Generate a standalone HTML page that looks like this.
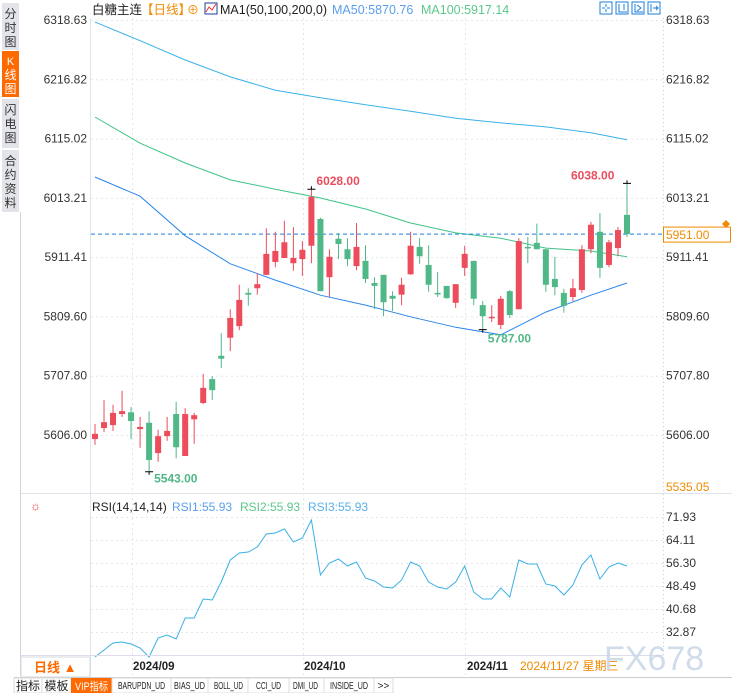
<!DOCTYPE html>
<html><head><meta charset="utf-8"><style>
html,body{margin:0;padding:0;background:#fff;width:732px;height:693px;overflow:hidden}
svg text{font-family:"Liberation Sans","Noto Sans CJK SC",sans-serif}
</style></head><body>
<svg id="c" width="732" height="693" xmlns="http://www.w3.org/2000/svg">
<rect x="0" y="0" width="732" height="693" fill="#fff"/>
<g>
<rect x="0" y="0" width="21" height="693" fill="#fff"/>
<rect x="2" y="3" width="17" height="47" fill="#e3e4ea"/>
<text x="10.5" y="18" font-size="12" text-anchor="middle" fill="#333">分</text>
<text x="10.5" y="32" font-size="12" text-anchor="middle" fill="#333">时</text>
<text x="10.5" y="46" font-size="12" text-anchor="middle" fill="#333">图</text>
<rect x="2" y="51" width="17" height="46" fill="#ff6a00"/>
<text x="10.5" y="65" font-size="11" text-anchor="middle" fill="#fff">K</text>
<text x="10.5" y="79" font-size="12" text-anchor="middle" fill="#fff">线</text>
<text x="10.5" y="93" font-size="12" text-anchor="middle" fill="#fff">图</text>
<rect x="2" y="99" width="17" height="49" fill="#e3e4ea"/>
<text x="10.5" y="114" font-size="12" text-anchor="middle" fill="#333">闪</text>
<text x="10.5" y="128" font-size="12" text-anchor="middle" fill="#333">电</text>
<text x="10.5" y="142" font-size="12" text-anchor="middle" fill="#333">图</text>
<rect x="2" y="150" width="17" height="62" fill="#e3e4ea"/>
<text x="10.5" y="165" font-size="12" text-anchor="middle" fill="#333">合</text>
<text x="10.5" y="179" font-size="12" text-anchor="middle" fill="#333">约</text>
<text x="10.5" y="193" font-size="12" text-anchor="middle" fill="#333">资</text>
<text x="10.5" y="207" font-size="12" text-anchor="middle" fill="#333">料</text>
<line x1="20.5" y1="212" x2="20.5" y2="676" stroke="#cfd3dc"/>
</g>
<g>
<text x="92" y="14" font-size="12.5" fill="#222">白糖主连</text>
<text x="141" y="14" font-size="12.5" fill="#f08a00">【日线】</text>
<text x="187" y="14" font-size="12" fill="#f08a00">⊕</text>
<rect x="205" y="3" width="12" height="11" fill="#fff" stroke="#1c3f9c"/>
<polyline points="206,12 209,7 212,10 216,4" fill="none" stroke="#e33" stroke-width="1"/>
<text x="220" y="14" font-size="12.5" fill="#222">MA1(50,100,200,0)</text>
<text x="332" y="14" font-size="12.5" fill="#5b9ef0">MA50:5870.76</text>
<text x="421" y="14" font-size="12.5" fill="#5cc88a">MA100:5917.14</text>
<g stroke="#1c7fd8" fill="none">
<rect x="600" y="2" width="12" height="12"/><rect x="616" y="2" width="12" height="12"/><rect x="632" y="2" width="12" height="12"/><rect x="648" y="2" width="12" height="12"/>
<path d="M606 4v3M606 9v3M602 8h3M607 8h3M619 4v8h8M624 4v6M635 4v8h8M637 5l4 3-4 3M651 4v8M653 8h5M656 6l2 2-2 2"/>
</g>
</g>
<g id="grid"></g>
<g id="main"></g>
<g id="rsi"></g>
<g>
<line x1="21" y1="655.5" x2="663" y2="655.5" stroke="#dde"/>
<rect x="21" y="657" width="69" height="20" fill="#fff" stroke="#d5d8e0"/>
<text x="34" y="672" font-size="13" fill="#ff6a00" font-weight="bold">日线 ▲</text>
<text x="133" y="670" font-size="11.5" font-weight="bold" fill="#222">2024/09</text>
<text x="304" y="670" font-size="11.5" font-weight="bold" fill="#222">2024/10</text>
<text x="467" y="670" font-size="11.5" font-weight="bold" fill="#222">2024/11</text>
<text x="520" y="670" font-size="12" fill="#f08a00">2024/11/27 星期三</text>
</g>
<text x="604" y="670" font-size="34" fill="#c9d6e8" opacity="0.85">FX678</text>
<g>
<line x1="14" y1="677.5" x2="732" y2="677.5" stroke="#ccc"/>
<rect x="14" y="678" width="28" height="15" fill="#fff" stroke="#ddd"/>
<text x="28" y="690" font-size="12" text-anchor="middle" fill="#222">指标</text>
<rect x="42" y="678" width="29" height="15" fill="#fff" stroke="#ddd"/>
<text x="56.5" y="690" font-size="12" text-anchor="middle" fill="#222">模板</text>
<rect x="71" y="678" width="41" height="15" fill="#ff6a00"/>
<text x="75" y="690" font-size="11" fill="#fff" textLength="33" lengthAdjust="spacingAndGlyphs">VIP指标</text>
<rect x="112" y="678" width="59" height="15" fill="#fff" stroke="#ddd"/>
<text x="118" y="689" font-size="10" fill="#222" font-family="Liberation Mono, monospace" textLength="47" lengthAdjust="spacingAndGlyphs">BARUPDN_UD</text>
<rect x="171" y="678" width="37" height="15" fill="#fff" stroke="#ddd"/>
<text x="174" y="689" font-size="10" fill="#222" font-family="Liberation Mono, monospace" textLength="31" lengthAdjust="spacingAndGlyphs">BIAS_UD</text>
<rect x="208" y="678" width="40" height="15" fill="#fff" stroke="#ddd"/>
<text x="214" y="689" font-size="10" fill="#222" font-family="Liberation Mono, monospace" textLength="29" lengthAdjust="spacingAndGlyphs">BOLL_UD</text>
<rect x="248" y="678" width="41" height="15" fill="#fff" stroke="#ddd"/>
<text x="256" y="689" font-size="10" fill="#222" font-family="Liberation Mono, monospace" textLength="25" lengthAdjust="spacingAndGlyphs">CCI_UD</text>
<rect x="289" y="678" width="35" height="15" fill="#fff" stroke="#ddd"/>
<text x="293" y="689" font-size="10" fill="#222" font-family="Liberation Mono, monospace" textLength="25" lengthAdjust="spacingAndGlyphs">DMI_UD</text>
<rect x="324" y="678" width="50" height="15" fill="#fff" stroke="#ddd"/>
<text x="330" y="689" font-size="10" fill="#222" font-family="Liberation Mono, monospace" textLength="38" lengthAdjust="spacingAndGlyphs">INSIDE_UD</text>
<rect x="374" y="678" width="19" height="15" fill="#fff" stroke="#ddd"/>
<text x="383.5" y="689" font-size="10" text-anchor="middle" fill="#222">&gt;&gt;</text>
</g>
</svg>
<script>
const opens  =[5599,5618,5623,5642,5645,5616,5627,5575,5604,5642,5570,5633,5661,5702,5742,5773,5793,5850,5858,5881,5903,5910,5901,5908,5931,5977,5877,5943,5925,5896,5905,5867,5881,5845,5847,5882,5929,5898,5850,5862,5833,5893,5905,5829,5807,5795,5853,5822,5929,5936,5925,5874,5850,5843,5855,5925,5955,5898,5927,5984];
const closes =[5608,5628,5644,5647,5630,5620,5563,5604,5613,5585,5642,5640,5687,5683,5737,5807,5838,5847,5865,5917,5922,5937,5910,5924,6015,5853,5912,5934,5908,5929,5874,5862,5834,5840,5864,5931,5913,5864,5848,5841,5865,5917,5840,5810,5809,5840,5812,5939,5927,5925,5864,5860,5828,5858,5925,5967,5893,5937,5958,5951];
const highs  =[5625,5666,5658,5682,5654,5637,5647,5615,5637,5663,5652,5644,5711,5707,5781,5822,5864,5858,5884,5961,5955,5974,5963,5939,6028,5979,5925,5953,5944,5970,5932,5877,5881,5853,5876,5955,5944,5932,5886,5862,5865,5931,5905,5836,5829,5845,5855,5944,5946,5969,5925,5912,5857,5874,5932,5972,5987,5941,5963,6038];
const lows   =[5589,5611,5613,5637,5599,5584,5543,5560,5596,5566,5570,5591,5659,5666,5721,5750,5786,5828,5847,5881,5894,5910,5888,5879,5901,5853,5843,5908,5896,5889,5867,5822,5810,5819,5829,5881,5900,5852,5843,5840,5824,5879,5829,5787,5800,5788,5807,5822,5901,5925,5852,5846,5816,5836,5850,5918,5876,5894,5913,5946];
const maIdx  =[0,5,10,15,20,25,30,35,40,45,50,55,59];
const ma50   =[6049,6016,5948,5900,5872,5846,5829,5809,5791,5778,5817,5846,5867];
const ma100  =[6152,6107,6073,6044,6028,6013,5994,5970,5953,5944,5927,5922,5912];
const ma200  =[6315,6283,6250,6221,6198,6185,6173,6162,6150,6142,6135,6125,6113];
const priceTicks=["6318.63","6216.82","6115.02","6013.21","5911.41","5809.60","5707.80","5606.00"];
const rsiVals=[24.38,26.75,29.13,29.47,28.79,27.43,24.38,30.83,31.85,30.49,37.62,37.62,44.08,43.74,49.85,57.32,59.70,60.04,61.74,66.16,66.50,67.85,63.44,64.80,70.91,52.23,56.31,57.66,55.29,56.65,51.21,50.19,48.15,47.81,50.53,56.65,55.29,49.85,48.15,47.47,49.85,55.29,46.46,44.08,44.08,47.81,44.76,57.32,55.97,55.97,49.17,48.49,45.44,48.83,55.63,59.02,50.87,54.95,56.31,55.29];
const rsiTicks=["71.93","64.11","56.30","48.49","40.68","32.87"];
const lastPrice=5951;

const NS="http://www.w3.org/2000/svg";
function mk(tag,attrs,parent,txt){const e=document.createElementNS(NS,tag);for(const k in attrs)e.setAttribute(k,attrs[k]);if(txt!==undefined)e.textContent=txt;parent.appendChild(e);return e;}
const x0=95,dx=(627-95)/59;
const xs=i=>x0+i*dx;
const pTop=6318.63,pBot=5606.00,yTop=20,yBot=435;
const yp=p=>yTop+(pTop-p)*(yBot-yTop)/(pTop-pBot);
const rTop=71.93,rBot=32.87,ryTop=517,ryBot=632;
const yr=v=>ryTop+(rTop-v)*(ryBot-ryTop)/(rTop-rBot);

const grid=document.getElementById('grid');
const main=document.getElementById('main');
const rsi=document.getElementById('rsi');
let e;
e=mk('line',{x1:90.5,y1:18,x2:90.5,y2:676,stroke:'#dfe3ea'},grid);


e=mk('line',{x1:663.5,y1:18,x2:663.5,y2:655,stroke:'#c8ccd4','stroke-dasharray':'1,3'},grid);


e=mk('line',{x1:21,y1:493.5,x2:732,y2:493.5,stroke:'#dfe3ea'},grid);


[132,303,465].forEach(x=>{
  e=mk('line',{x1:x+.5,y1:18,x2:x+.5,y2:676,stroke:'#e4e6ea','stroke-dasharray':'2,3'},grid);
  
  
});
priceTicks.forEach(t=>{
  const y=yp(parseFloat(t));
  e=mk('line',{x1:91,y1:y+.5,x2:663,y2:y+.5,stroke:'#e4e6ea','stroke-dasharray':'2,3'},grid);
  
  
  e=mk('text',{x:87,y:y+4,'font-size':12,'text-anchor':'end',fill:'#333'},grid,t);
  
  
  e=mk('text',{x:666,y:y+4,'font-size':12,fill:'#333'},grid,t);
  
  
});
e=mk('text',{x:666,y:491,'font-size':12,fill:'#f08a00'},grid,'5535.05');


rsiTicks.forEach(t=>{
  const y=yr(parseFloat(t));
  e=mk('line',{x1:91,y1:y+.5,x2:663,y2:y+.5,stroke:'#e4e6ea','stroke-dasharray':'2,3'},grid);
  
  
  e=mk('text',{x:666,y:y+4,'font-size':12,fill:'#333'},grid,t);
  
  
});
function maPath(arr,color,name){
  const pts=arr.map((v,k)=>xs(maIdx[k]).toFixed(1)+','+yp(v).toFixed(1)).join(' ');
  const el=mk('polyline',{points:pts,fill:'none',stroke:color,'stroke-width':1},main);
  
  
}
maPath(ma200,'#3ab2e8','ma200-line');
maPath(ma100,'#3ec486','ma100-line');
maPath(ma50,'#2a86ea','ma50-line');
const ly=yp(lastPrice);
e=mk('line',{x1:91,y1:ly,x2:663,y2:ly,stroke:'#1a7fe6','stroke-dasharray':'4,3'},main);


e=mk('rect',{x:663.5,y:ly-7,width:67,height:15,fill:'#fff',stroke:'#f08a00'},main);


e=mk('text',{x:666,y:ly+5,'font-size':12,fill:'#f08a00'},main,lastPrice.toFixed(2));


e=mk('path',{d:'M722 224l4 -4 4 4 -4 4z',fill:'#f08a00'},main);


opens.forEach((o,i)=>{
  const c=closes[i],x=xs(i),up=c>=o,col=up?'#ec4c5c':'#4fb886';
  const g=mk('g',{},main);
  
  
  mk('line',{x1:x,y1:yp(highs[i]),x2:x,y2:yp(lows[i]),stroke:col,'stroke-width':1},g);
  const t=yp(Math.max(o,c)),b=yp(Math.min(o,c));
  mk('rect',{x:x-3,y:t,width:6,height:Math.max(1.5,b-t),fill:col},g);
});
function annot(i,val,isHigh,tx,ty,col,name){
  const x=xs(i),y=yp(val);
  const ln=mk('path',{d:isHigh?`M${x-4} ${y}h8M${x} ${y-3}v3`:`M${x-4} ${y}h8M${x} ${y}v3`,stroke:'#000','stroke-width':1},main);
  
  
  const t=mk('text',{x:tx,y:ty,'font-size':12,'font-weight':'bold',fill:col},main,val.toFixed(2));
  
  
}
const hiA=Math.max(...highs.slice(0,40)),hiAi=highs.indexOf(hiA);
annot(hiAi,hiA,true,xs(hiAi)+5,yp(hiA)-4,'#ec4c5c','high-6028');
const hiB=Math.max(...highs),hiBi=highs.lastIndexOf(hiB);
annot(hiBi,hiB,true,xs(hiBi)-56,yp(hiB)-4,'#ec4c5c','high-6038');
const loA=Math.min(...lows),loAi=lows.indexOf(loA);
annot(loAi,loA,false,xs(loAi)+5,yp(loA)+11,'#4fb886','low-5543');
const loB=Math.min(...lows.slice(30)),loBi=30+lows.slice(30).indexOf(loB);
annot(loBi,loB,false,xs(loBi)+5,yp(loB)+13,'#4fb886','low-5787');
e=mk('text',{x:30,y:510,'font-size':12,fill:'#e33'},rsi,'☼');


e=mk('text',{x:92,y:511,'font-size':12,fill:'#222'},rsi,'RSI(14,14,14)');


e=mk('text',{x:172,y:511,'font-size':12,fill:'#5b9ef0'},rsi,'RSI1:55.93');


e=mk('text',{x:240,y:511,'font-size':12,fill:'#5cc88a'},rsi,'RSI2:55.93');


e=mk('text',{x:308,y:511,'font-size':12,fill:'#5ab0e8'},rsi,'RSI3:55.93');


const rp=rsiVals.map((v,i)=>xs(i).toFixed(1)+','+yr(v).toFixed(1)).join(' ');
e=mk('polyline',{points:rp,fill:'none',stroke:'#3ab0e6','stroke-width':1},rsi);


</script>
</body></html>
